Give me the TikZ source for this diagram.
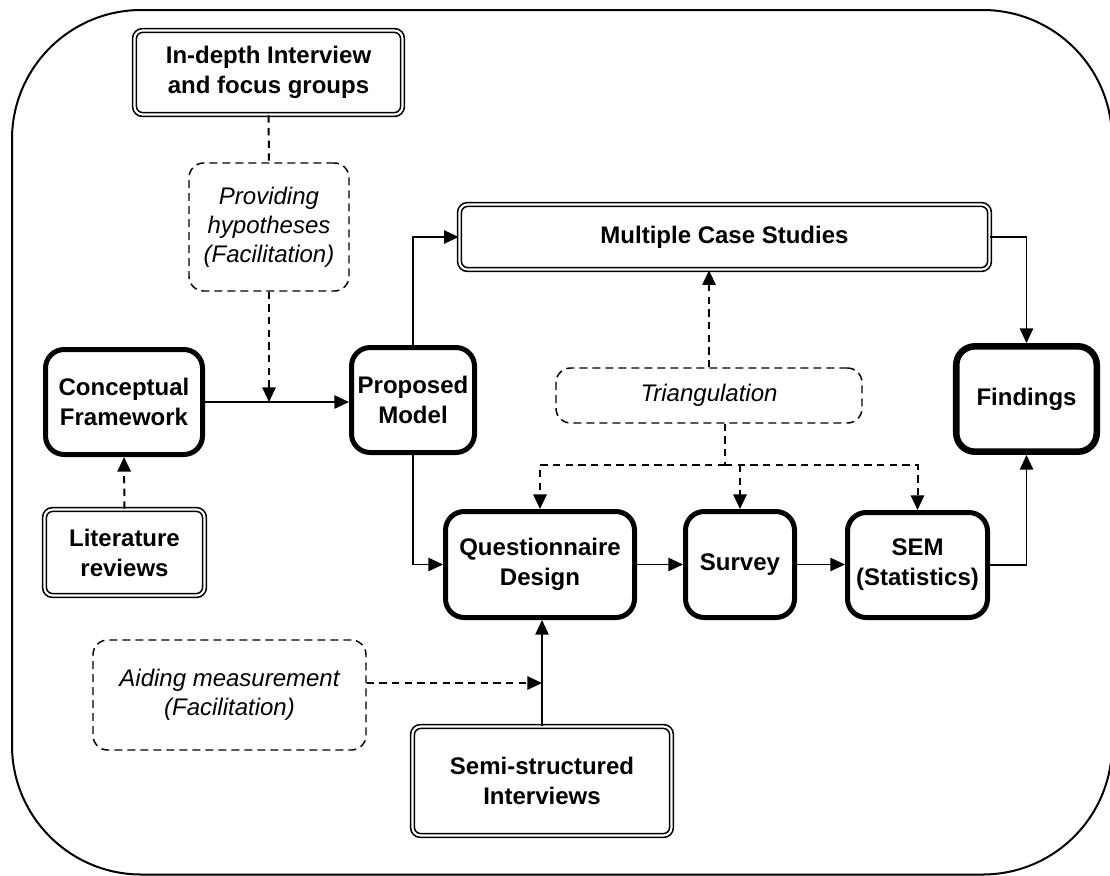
\documentclass[tikz,border=0pt]{standalone}
\usepackage{fontspec}
\setmainfont{Liberation Sans}
\usetikzlibrary{arrows.meta}
\begin{document}
\begin{tikzpicture}[x=0.75pt,y=-0.75pt,
  every node/.style={inner sep=0pt, align=center},
  heavybox/.style={draw, line width=3.75pt, rounded corners=14pt,
    font=\fontsize{18}{22.5}\selectfont\bfseries},
  dblbox/.style={draw, double, line width=1.2pt, double distance=1.6pt,
    rounded corners=6pt, font=\fontsize{18}{22.5}\selectfont\bfseries},
  notebox/.style={draw, line width=1.1pt, dash pattern=on 6pt off 3.75pt,
    rounded corners=11pt, font=\fontsize{18}{21.75}\selectfont\itshape},
  flow/.style={line width=1.2pt, -{Triangle[length=11pt,width=10pt]}},
  link/.style={line width=1.5pt, dash pattern=on 5.5pt off 4pt},
  dlink/.style={link, -{Triangle[length=11pt,width=10pt]}}
]
\useasboundingbox (0,0) rectangle (1110,875);

% outer frame
\draw[line width=1.5pt, rounded corners=97pt] (12,10) rectangle (1112,874.5);

% boxes
\node[dblbox, minimum width=201pt, minimum height=63pt] (ind) at (268.5,72.5)
  {In-depth Interview\\and focus groups};
\node[notebox, minimum width=120pt, minimum height=96pt] (hyp) at (269,227)
  {Providing\\hypotheses\\(Facilitation)};
\node[heavybox, minimum width=117.75pt, minimum height=78.75pt] (cf) at (124,402)
  {Conceptual\\Framework};
\node[dblbox, minimum width=120pt, minimum height=64.5pt] (lit) at (124.5,552.5)
  {Literature\\reviews};
\node[heavybox, minimum width=92.25pt, minimum height=78.75pt] (pm) at (413,400)
  {Proposed\\Model};
\node[dblbox, minimum width=397.5pt, minimum height=48.75pt] (mcs) at (724.5,237)
  {Multiple Case Studies};
\node[notebox, minimum width=229.5pt, minimum height=41.25pt] (tri) at (709,395.5)
  {Triangulation};
\node[heavybox, line width=4.9pt, minimum width=105.4pt, minimum height=79pt] (find) at (1026.5,399)
  {Findings};
\node[heavybox, minimum width=141.75pt, minimum height=79.5pt] (qd) at (540,564.5)
  {Questionnaire\\Design};
\node[heavybox, minimum width=81.75pt, minimum height=79.5pt] (sur) at (740,564.5)
  {Survey};
\node[heavybox, minimum width=105pt, minimum height=78.75pt] (sem) at (917.5,565)
  {SEM\\(Statistics)};
\node[notebox, minimum width=204.75pt, minimum height=82.5pt] (aid) at (229.5,695)
  {Aiding measurement\\(Facilitation)};
\node[dblbox, minimum width=194.25pt, minimum height=81.75pt] (ssi) at (542,781)
  {Semi-structured\\Interviews};

% helper points
\coordinate (hit) at (hyp.south |- cf.east);
\coordinate (tj) at (725,465);
\coordinate (sj) at (ssi.north |- aid.east);

% connectors
\draw[link] (ind.south) -- (hyp.north);
\draw[dlink] (hyp.south) -- (hit);
\draw[flow] (cf.east) -- (cf.east -| pm.west);
\draw[dlink] (lit.north) -- (cf.south);
\draw[flow] (pm.north) |- (mcs.west);
\draw[flow] (pm.south) |- (qd.west);
\draw[flow] (mcs.east) -| (find.north);
\draw[dlink] (tri.north) -- (tri.north |- mcs.south);
\draw[link] (tj |- tri.south) -- (tj);
\draw[dlink] (tj) -| (qd.north);
\draw[dlink] (tj) -| (sem.north);
\draw[dlink] (sur.north |- tj) -- (sur.north);
\draw[flow] (qd.east) -- (qd.east -| sur.west);
\draw[flow] (sur.east) -- (sur.east -| sem.west);
\draw[flow] (sem.east) -| (find.south);
\draw[flow] (ssi.north) -- (ssi.north |- qd.south);
\draw[dlink] ([yshift=9pt]aid.east) -- ([yshift=9pt]sj);
\end{tikzpicture}
\end{document}
